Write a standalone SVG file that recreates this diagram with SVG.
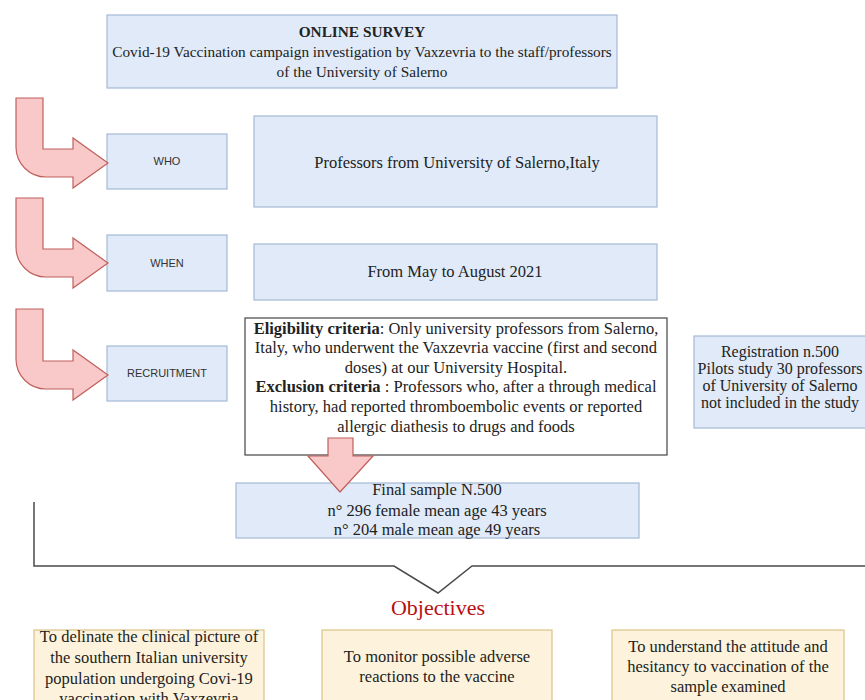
<svg xmlns="http://www.w3.org/2000/svg" width="865" height="700" viewBox="0 0 865 700">
<style>
.blue{fill:#e0eaf8;stroke:#a3b9d6;stroke-width:1.2}
.cream{fill:#fdf3dd;stroke:#dcc386;stroke-width:1.2}
.white{fill:#ffffff;stroke:#444444;stroke-width:1.2}
.arrow{fill:#f8c9c8;stroke:#c0605c;stroke-width:1.2;stroke-linejoin:miter}
.serif{font-family:"Liberation Serif","Times New Roman",serif;font-size:16.5px;fill:#222;text-anchor:middle}
.top{font-size:15.3px}
.reg{font-size:16px}
.sans{font-family:"Liberation Sans",Arial,sans-serif;font-size:11px;fill:#333;text-anchor:middle}
.b{font-weight:bold}
.bracket{fill:none;stroke:#4a4a4a;stroke-width:1.5}
</style>
<rect width="865" height="700" fill="#ffffff"/>
<g id="survey">
<rect class="blue" x="107" y="15" width="510" height="73"/>
<text class="serif top" x="362" y="37"><tspan class="b">ONLINE SURVEY</tspan><tspan x="362" y="57">Covid-19 Vaccination campaign investigation by Vaxzevria to the staff/professors</tspan><tspan x="362" y="77">of the University of Salerno</tspan></text>
</g>
<g id="who">
<rect class="blue" x="107" y="134" width="120" height="55"/>
<text class="sans" x="167" y="165">WHO</text>
</g>
<g id="who-detail">
<rect class="blue" x="254" y="116" width="403" height="91"/>
<text class="serif" x="457" y="168">Professors from University of Salerno,Italy</text>
</g>
<g id="when">
<rect class="blue" x="107" y="235" width="120" height="56"/>
<text class="sans" x="167" y="267">WHEN</text>
</g>
<g id="when-detail">
<rect class="blue" x="254" y="244" width="403" height="56"/>
<text class="serif" x="455" y="277">From May to August 2021</text>
</g>
<g id="recruitment">
<rect class="blue" x="107" y="346" width="120" height="55"/>
<text class="sans" x="167" y="377">RECRUITMENT</text>
</g>
<g id="criteria">
<rect class="white" x="245" y="318" width="422" height="137"/>
<text class="serif" x="456" y="334"><tspan class="b">Eligibility criteria</tspan>: Only university professors from Salerno,<tspan x="456" y="353">Italy, who underwent the Vaxzevria vaccine (first and second</tspan><tspan x="456" y="373">doses) at our University Hospital.</tspan><tspan x="456" y="392"><tspan class="b">Exclusion criteria</tspan> : Professors who, after a through medical</tspan><tspan x="456" y="412">history, had reported thromboembolic events or reported</tspan><tspan x="456" y="432">allergic diathesis to drugs and foods</tspan></text>
</g>
<g id="registration">
<rect class="blue" x="694" y="336" width="180" height="92"/>
<text class="serif reg" x="780" y="357">Registration n.500<tspan x="780" y="374">Pilots study 30 professors</tspan><tspan x="780" y="391">of University of Salerno</tspan><tspan x="780" y="408">not included in the study</tspan></text>
</g>
<g id="final-sample">
<rect class="blue" x="236" y="483" width="403" height="55"/>
<text class="serif" x="437" y="495">Final sample N.500<tspan x="437" y="516">n° 296 female mean age 43 years</tspan><tspan x="437" y="535">n° 204 male mean age 49 years</tspan></text>
</g>
<g id="objectives-title">
<text x="438" y="615" style="font-family:'Liberation Serif','Times New Roman',serif;font-size:22px;fill:#b80f14;text-anchor:middle">Objectives</text>
</g>
<g id="objective-1">
<rect class="cream" x="34" y="630" width="230" height="90"/>
<text class="serif" x="149" y="642">To delinate the clinical picture of<tspan x="149" y="663">the southern Italian university</tspan><tspan x="149" y="684">population undergoing Covi-19</tspan><tspan x="149" y="704">vaccination with Vaxzevria</tspan></text>
</g>
<g id="objective-2">
<rect class="cream" x="322" y="630" width="230" height="90"/>
<text class="serif" x="437" y="662">To monitor possible adverse<tspan x="437" y="682">reactions to the vaccine</tspan></text>
</g>
<g id="objective-3">
<rect class="cream" x="612" y="630" width="232" height="90"/>
<text class="serif" x="728" y="652">To understand the attitude and<tspan x="728" y="672">hesitancy to vaccination of the</tspan><tspan x="728" y="692">sample examined</tspan></text>
</g>
<g id="connectors">
<path class="arrow" d="M16,98 H43 V149 H73 V138 L108,163 L73,188 V177 H46 A30,30 0 0 1 16,147 Z"/>
<path class="arrow" d="M16,198 H43 V249 H73 V238 L108,263 L73,288 V277 H46 A30,30 0 0 1 16,247 Z"/>
<path class="arrow" d="M16,309 H43 V361 H73 V350 L108,375 L73,400 V389 H46 A30,30 0 0 1 16,359 Z"/>
<path class="arrow" d="M328,438 H353 V456 H373 L340,492 L308,456 H328 Z"/>
<polyline class="bracket" points="34,502 34,566 394,566 438,593 472,566 866,566"/>
</g>
</svg>
